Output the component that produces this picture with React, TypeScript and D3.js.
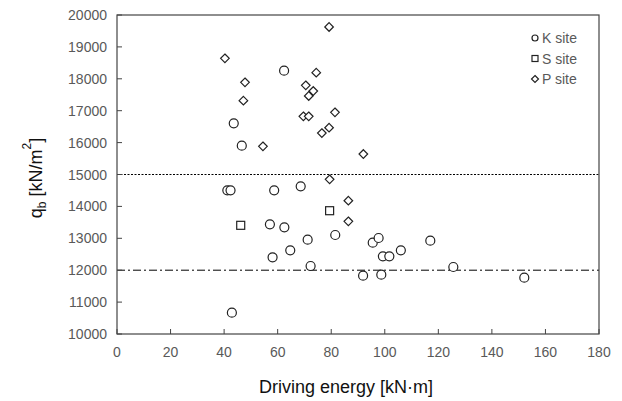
import React from "react";
import * as d3 from "d3";

const kX = [62.4, 43.6, 46.6, 41.2, 42.4, 58.7, 68.6, 57.1, 62.5, 71.2, 81.5, 64.7, 58.1, 72.3, 42.9, 95.5, 97.7, 99.3, 101.7, 106.0, 117.0, 91.9, 98.7, 125.6, 152.1];
const kY = [18255, 16605, 15903, 14504, 14504, 14504, 14629, 13438, 13344, 12956, 13103, 12623, 12404, 12131, 10667, 12862, 13009, 12435, 12435, 12623, 12925, 11827, 11859, 12100, 11765];
const sX = [46.2, 79.4];
const sY = [13407, 13865];
const pX = [40.3, 79.2, 47.8, 47.2, 54.5, 70.5, 74.4, 73.3, 71.6, 69.6, 71.6, 81.4, 76.5, 79.2, 92.0, 79.4, 86.4, 86.4];
const pY = [18642, 19624, 17890, 17314, 15884, 17795, 18192, 17617, 17461, 16824, 16824, 16949, 16300, 16467, 15642, 14849, 14178, 13532];
const xTicks = [0, 20, 40, 60, 80, 100, 120, 140, 160, 180];
const yTicks = [10000, 11000, 12000, 13000, 14000, 15000, 16000, 17000, 18000, 19000, 20000];
const legendLabels = ["K site", "S site", "P site"];
const refLines = [15000, 12000];

const W = 622, H = 401;
const L = 117, R = 599, T = 15, B = 334;
const font = "Arial, 'Liberation Sans', sans-serif";

export default function App() {
  const x = d3.scaleLinear().domain([0, 180]).range([L, R]);
  const y = d3.scaleLinear().domain([10000, 20000]).range([B, T]);
  const stroke = "#222";
  const circle = (cx: number, cy: number, r: number, k: string) => (
    <circle key={k} cx={cx} cy={cy} r={r} fill="white" stroke={stroke} strokeWidth={1.2} />
  );
  const square = (cx: number, cy: number, s: number, k: string) => (
    <rect key={k} x={cx - s / 2} y={cy - s / 2} width={s} height={s} fill="white" stroke={stroke} strokeWidth={1.2} />
  );
  const diamond = (cx: number, cy: number, s: number, k: string) => (
    <path key={k} d={`M${cx},${cy - s}L${cx + s},${cy}L${cx},${cy + s}L${cx - s},${cy}Z`} fill="white" stroke={stroke} strokeWidth={1.2} />
  );
  return (
    <svg width={W} height={H} style={{ position: "absolute", left: 0, top: 0, background: "white" }}>
      <rect x={0} y={0} width={W} height={H} fill="white" />
      {/* ref lines */}
      <line x1={L} x2={R} y1={y(refLines[0])} y2={y(refLines[0])} stroke="#000" strokeWidth={1} strokeDasharray="2,1.5" />
      <line x1={L} x2={R} y1={y(refLines[1])} y2={y(refLines[1])} stroke="#000" strokeWidth={1} strokeDasharray="8,3,2,3" />
      {/* ticks */}
      {xTicks.map((t) => (
        <g key={"xt" + t}>
          <line x1={x(t)} x2={x(t)} y1={B} y2={B - 5} stroke="#444" strokeWidth={1} />
          <text x={x(t)} y={357} textAnchor="middle" fontSize={14} fill="#595959" fontFamily={font}>{t}</text>
        </g>
      ))}
      {yTicks.map((t) => (
        <g key={"yt" + t}>
          <line x1={L} x2={L + 5} y1={y(t)} y2={y(t)} stroke="#444" strokeWidth={1} />
          <text x={107} y={y(t) + 5} textAnchor="end" fontSize={14} fill="#595959" fontFamily={font}>{t}</text>
        </g>
      ))}
      <rect x={L} y={T} width={R - L} height={B - T} fill="none" stroke="#444" strokeWidth={1.2} />
      {/* points */}
      {pX.map((v, i) => diamond(x(v), y(pY[i]), 4.3, "p" + i))}
      {kX.map((v, i) => circle(x(v), y(kY[i]), 4.5, "k" + i))}
      {sX.map((v, i) => square(x(v), y(sY[i]), 8, "s" + i))}
      {/* legend */}
      {circle(535, 38, 3, "lk")}
      {square(535, 58.5, 6, "ls")}
      {diamond(535, 79, 3.5, "lp")}
      {legendLabels.map((l, i) => (
        <text key={l} x={542} y={43 + i * 20.5} fontSize={14} fill="#595959" fontFamily={font}>{l}</text>
      ))}
      {/* axis titles */}
      <text x={346} y={393} textAnchor="middle" fontSize={18} fill="#111" fontFamily={font}>Driving energy [kN·m]</text>
      <g transform="translate(42,178) rotate(-90)">
        <text textAnchor="middle" fontSize={18} fill="#111" fontFamily={font}>
          q<tspan fontSize={12} dy={4}>b</tspan><tspan dy={-4}> [kN/m</tspan><tspan fontSize={12} dy={-11}>2</tspan><tspan dy={11}>]</tspan>
        </text>
      </g>
    </svg>
  );
}
